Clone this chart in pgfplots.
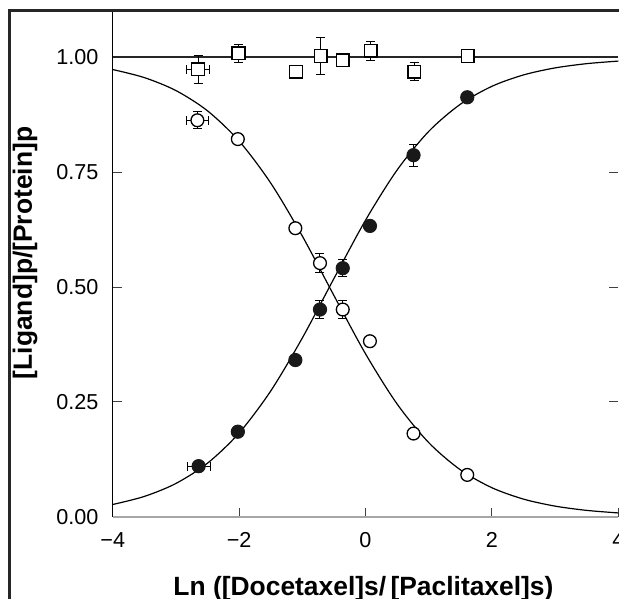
\documentclass[border=0pt]{standalone}
\usepackage{fontspec}
\setmainfont{Liberation Sans}
\usepackage{pgfplots}
\usepackage{pgfplotstable}
\pgfplotsset{compat=1.18}

% filled circles (increasing)
\pgfplotstableread{
x y ex ey
-2.64 0.110 0.18 0.000
-2.02 0.185 0.00 0.000
-1.11 0.341 0.00 0.000
-0.72 0.451 0.00 0.020
-0.36 0.541 0.00 0.019
0.07 0.633 0.00 0.000
0.76 0.787 0.00 0.024
1.61 0.913 0.00 0.000
}\filled
% open circles (decreasing)
\pgfplotstableread{
x y ex ey
-2.66 0.863 0.18 0.018
-2.02 0.822 0.00 0.000
-1.11 0.628 0.00 0.000
-0.72 0.552 0.00 0.020
-0.36 0.451 0.00 0.020
0.07 0.382 0.00 0.000
0.76 0.181 0.00 0.000
1.61 0.091 0.00 0.000
}\opencirc
% open squares (sum)
\pgfplotstableread{
x y ex ey
-2.65 0.974 0.18 0.030
-2.01 1.009 0.00 0.020
-1.10 0.969 0.00 0.000
-0.71 1.003 0.00 0.040
-0.36 0.994 0.00 0.000
0.08 1.014 0.00 0.020
0.77 0.969 0.00 0.020
1.62 1.003 0.00 0.000
}\squares

\pgfplotsset{errstyle/.style={only marks, mark=none,
  error bars/.cd, x dir=both, x explicit, y dir=both, y explicit,
  error bar style={black, line width=1bp},
  error mark options={rotate=90, black, line width=1bp, mark size=4.5bp}}}

\begin{document}
\begin{tikzpicture}
\useasboundingbox (0,0) rectangle (619bp,599bp);
\begin{axis}[
  at={(112.7bp,82.3bp)}, anchor=south west,
  scale only axis, width=505.6bp, height=505.3bp,
  xmin=-4, xmax=4, ymin=0, ymax=1.1,
  clip=false,
  axis line style={draw=none},
  xtick={-4,-2,0,2,4}, xticklabels={−4,−2,0,2,4},
  ytick={0,0.25,0.5,0.75,1}, yticklabels={0.00,0.25,0.50,0.75,1.00},
  xtick pos=left, ytick pos=both,
  tick align=inside, major tick length=9bp,
  tick style={black!75, line width=1bp},
  xticklabel style={font=\fontsize{21.7}{26}\selectfont, inner sep=0pt, anchor=north, yshift=-16bp},
  yticklabel style={font=\fontsize{21.7}{26}\selectfont, inner sep=0pt, anchor=east, xshift=-14bp},
  xlabel={Ln ([Docetaxel]s/\,[Paclitaxel]s)},
  ylabel={[Ligand]p/[Protein]p},
  xlabel style={at={(axis description cs:0.496,-0.155)}, anchor=base, inner sep=0pt,
    font=\fontsize{26.5}{32}\selectfont\bfseries},
  ylabel style={at={(axis description cs:-0.1735,0.5219)}, anchor=center, inner sep=0pt,
    font=\fontsize{26.5}{32}\selectfont\bfseries},
]
% fitted curves
\addplot[black, line width=1.2bp, smooth, mark=none] coordinates {
(-4,0.02656) (-3.5,0.04409) (-3,0.07233) (-2.5,0.11644) (-2,0.18221) (-1.5,0.27360)
(-1,0.38900) (-0.5,0.51837) (0,0.64531) (0.5,0.75464) (1,0.83868) (1.5,0.89783)
(2,0.93693) (2.5,0.96170) (3,0.97698) (3.5,0.98625) (4,0.99182)};
\addplot[black, line width=1.2bp, smooth, mark=none] coordinates {
(-4,0.97344) (-3.5,0.95591) (-3,0.92767) (-2.5,0.88356) (-2,0.81779) (-1.5,0.72640)
(-1,0.61100) (-0.5,0.48163) (0,0.35469) (0.5,0.24536) (1,0.16132) (1.5,0.10217)
(2,0.06307) (2.5,0.03830) (3,0.02302) (3.5,0.01375) (4,0.00818)};
\addplot[black!85, line width=1.8bp, mark=none] coordinates {(-4,1) (4,1)};
% error bars
\addplot[errstyle] table[x=x, y=y, x error=ex, y error=ey] {\filled};
\addplot[errstyle] table[x=x, y=y, x error=ex, y error=ey] {\opencirc};
\addplot[errstyle] table[x=x, y=y, x error=ex, y error=ey] {\squares};
% markers
\addplot[only marks, mark=*, mark size=6.6bp, mark options={fill=black!90, draw=black!90, line width=1bp}]
  table[x=x, y=y] {\filled};
\addplot[only marks, mark=*, mark size=6.4bp, mark options={fill=white, draw=black, line width=1.3bp}]
  table[x=x, y=y] {\opencirc};
\addplot[only marks, mark=square*, mark size=6.3bp, mark options={fill=white, draw=black, line width=1.5bp}]
  table[x=x, y=y] {\squares};
% axis lines
\draw[black, line width=1.3bp] (rel axis cs:0,0) -- (rel axis cs:0,1);
\draw[black!35, line width=2.2bp] (rel axis cs:0,0) -- (rel axis cs:1,0);
\end{axis}
\draw[black!85, line width=2.7bp] (9.7bp,0) -- (9.7bp,588.3bp) -- (625bp,588.3bp);
\end{tikzpicture}
\end{document}
